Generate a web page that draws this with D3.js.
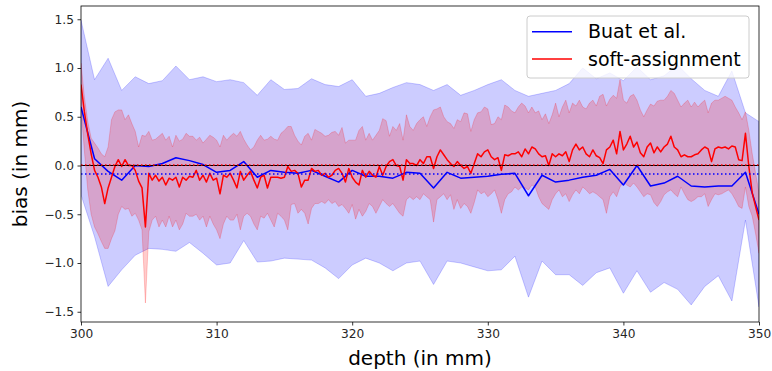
<!DOCTYPE html>
<html>
<head>
<meta charset="utf-8">
<script src="https://cdn.jsdelivr.net/npm/d3@7"></script>
<style>
  body { margin: 0; background: #fff; }
  svg { display: block; font-family: "DejaVu Sans", sans-serif; }
</style>
</head>
<body>
<svg id="chart" width="772" height="371"></svg>
<script>
// depth grids (mm): the baseline method is sampled every 1 mm, soft-assignment every 0.25 mm
const buatDepth = d3.range(300, 350.001, 1);
const softDepth = d3.range(300, 350.001, 0.25);

// Buat et al. : mean bias and the +/- band
const buatMean = [
  0.6, 0.07, -0.06, -0.15, 0.0, -0.01, 0.02, 0.08, 0.05, 0.01,
  -0.07, -0.05, 0.04, -0.12, -0.05, -0.07, -0.08, -0.05, -0.11, -0.17,
  -0.05, -0.11, -0.11, -0.13, -0.07, -0.08, -0.23, -0.07, -0.13, -0.12,
  -0.11, -0.09, -0.08, -0.31, -0.1, -0.17, -0.15, -0.12, -0.1, -0.04,
  -0.2, 0.0, -0.21, -0.18, -0.11, -0.21, -0.22, -0.21, -0.21, -0.07,
  -0.5
];
const buatUpper = [
  1.49, 0.88, 1.1, 0.77, 0.91, 0.84, 0.87, 1.02, 0.88, 0.91,
  0.86, 0.88, 0.85, 0.72, 0.88, 0.78, 0.79, 0.89, 0.83, 0.81,
  0.88, 0.71, 0.74, 0.8, 0.85, 0.83, 0.77, 0.83, 0.72, 0.77,
  0.83, 0.88, 0.77, 0.71, 0.74, 0.77, 0.84, 1.0, 0.89, 0.95,
  0.87, 1.01, 0.88, 0.92, 1.03, 0.89, 0.77, 0.71, 0.97, 0.54,
  0.45
];
const buatLower = [
  -0.3, -0.73, -1.24, -1.07, -0.92, -0.85, -0.86, -0.88, -0.79, -0.9,
  -1.02, -1.0, -0.77, -0.99, -0.98, -0.95, -0.96, -0.97, -1.05, -1.16,
  -1.02, -0.95, -1.0, -1.08, -1.0, -0.98, -1.22, -0.98, -1.0, -1.04,
  -1.08, -1.07, -0.93, -1.35, -0.98, -1.12, -1.12, -1.23, -1.1, -1.05,
  -1.31, -1.08, -1.3, -1.2, -1.27, -1.43, -1.24, -1.13, -1.39, -0.56,
  -1.45
];

// soft-assignment : mean bias and band (4 values per mm)
const softMean = [
  0.83, 0.55, 0.32, 0.12,  -0.05, -0.12, -0.22, -0.39,  -0.23, -0.12, -0.01, 0.06,
  -0.01, 0.06, 0.0, 0.0,  -0.05, -0.16, -0.23, -0.63,  -0.08, -0.15, -0.1, -0.16,
  -0.12, -0.2, -0.13, -0.15,  -0.12, -0.22, -0.12, -0.15,  -0.11, -0.12, -0.05, -0.15,
  -0.1, -0.17, -0.08, -0.15,  -0.13, -0.29, -0.1, -0.12,  -0.08, -0.15, -0.23, -0.06,
  -0.15, -0.1, -0.06, -0.15,  -0.23, -0.12, -0.1, -0.23,  -0.12, -0.12, -0.12, -0.13,
  -0.12, -0.01, -0.06, -0.05,  -0.08, -0.22, -0.15, -0.15,  -0.03, -0.06, -0.05, -0.1,
  -0.08, -0.12, -0.1, -0.05,  -0.03, -0.08, -0.17, -0.03,  -0.12, -0.17, -0.2, -0.05,
  -0.12, -0.06, -0.1, -0.12,  -0.01, -0.1, -0.01, 0.04,  0.06, 0.0, -0.01, -0.15,
  0.06, 0.02, 0.02, 0.0,  0.06, 0.02, 0.09, 0.09,  -0.03, 0.09, 0.16, 0.11,
  0.06, 0.02, -0.01, 0.04,  0.0, -0.03, -0.01, -0.08,  0.02, 0.12, 0.09, 0.14,
  0.16, 0.09, 0.06, 0.08,  -0.05, 0.11, 0.1, 0.12,  0.12, 0.14, 0.09, 0.17,
  0.12, 0.19, 0.17, 0.12,  0.09, 0.1, 0.0, 0.12,  0.09, 0.12, 0.1, 0.14,
  0.04, 0.16, 0.22, 0.16,  0.19, 0.12, 0.09, 0.16,  0.1, 0.08, 0.02, 0.16,
  0.19, 0.26, 0.12, 0.35,  0.16, 0.22, 0.3, 0.19,  0.24, 0.13, 0.09, 0.19,
  0.23, 0.13, 0.19, 0.14,  0.19, 0.22, 0.3, 0.19,  0.16, 0.09, 0.11, 0.09,
  0.09, 0.11, 0.12, 0.16,  0.19, 0.17, 0.04, 0.17,  0.19, 0.18, 0.19, 0.17,
  0.2, 0.19, 0.06, 0.05,  0.33, -0.01, -0.28, -0.42,
  -0.56
];
const softUpper = [
  1.05, 0.7, 0.45, 0.28,  0.23, 0.18, 0.12, 0.09,  0.19, 0.47, 0.55, 0.57,
  0.57, 0.47, 0.52, 0.43,  0.35, 0.19, 0.31, 0.3,  0.35, 0.26, 0.27, 0.3,
  0.33, 0.26, 0.3, 0.19,  0.31, 0.25, 0.27, 0.33,  0.3, 0.3, 0.26, 0.29,
  0.23, 0.27, 0.31, 0.29,  0.26, 0.19, 0.31, 0.26,  0.3, 0.33, 0.3, 0.35,
  0.27, 0.21, 0.16, 0.19,  0.26, 0.31, 0.26, 0.27,  0.3, 0.27, 0.26, 0.33,
  0.36, 0.4, 0.4, 0.31,  0.25, 0.21, 0.3, 0.33,  0.26, 0.37, 0.35, 0.33,
  0.3, 0.31, 0.34, 0.35,  0.31, 0.39, 0.23, 0.26,  0.26, 0.26, 0.36, 0.4,
  0.26, 0.33, 0.26, 0.31,  0.36, 0.48, 0.46, 0.3,  0.4, 0.36, 0.43, 0.26,
  0.52, 0.4, 0.36, 0.43,  0.47, 0.5, 0.4, 0.5,  0.57, 0.58, 0.6, 0.5,
  0.45, 0.43, 0.38, 0.47,  0.45, 0.54, 0.53, 0.35,  0.47, 0.54, 0.55, 0.6,
  0.58, 0.42, 0.43, 0.5,  0.47, 0.62, 0.6, 0.56,  0.54, 0.6, 0.64, 0.61,
  0.54, 0.6, 0.54, 0.56,  0.47, 0.53, 0.43, 0.52,  0.64, 0.5, 0.6, 0.67,
  0.54, 0.64, 0.61, 0.67,  0.6, 0.58, 0.64, 0.67,  0.61, 0.71, 0.73, 0.61,
  0.68, 0.72, 0.69, 0.88,  0.67, 0.64, 0.71, 0.73,  0.67, 0.57, 0.5, 0.57,
  0.63, 0.61, 0.66, 0.67,  0.67, 0.71, 0.77, 0.74,  0.67, 0.6, 0.64, 0.67,
  0.6, 0.65, 0.6, 0.64,  0.67, 0.54, 0.64, 0.67,  0.67, 0.69, 0.71, 0.69,
  0.67, 0.6, 0.54, 0.47,  0.55, 0.36, 0.12, -0.08,
  -0.28
];
const softLower = [
  0.6, 0.15, -0.25, -0.5,  -0.63, -0.7, -0.78, -0.85,  -0.85, -0.75, -0.67, -0.5,
  -0.42, -0.45, -0.44, -0.52,  -0.49, -0.56, -0.66, -1.41,  -0.68, -0.56, -0.52, -0.63,
  -0.56, -0.63, -0.52, -0.63,  -0.56, -0.66, -0.6, -0.49,  -0.52, -0.52, -0.5, -0.56,
  -0.52, -0.63, -0.52, -0.6,  -0.66, -0.75, -0.6, -0.52,  -0.56, -0.56, -0.5, -0.66,
  -0.52, -0.49, -0.52, -0.6,  -0.66, -0.52, -0.54, -0.49,  -0.56, -0.63, -0.49, -0.52,
  -0.56, -0.66, -0.4, -0.39,  -0.49, -0.45, -0.49, -0.6,  -0.44, -0.39, -0.39, -0.37,
  -0.39, -0.35, -0.39, -0.37,  -0.42, -0.4, -0.44, -0.49,  -0.4, -0.55, -0.45, -0.52,
  -0.47, -0.39, -0.42, -0.49,  -0.42, -0.35, -0.39, -0.42,  -0.39, -0.44, -0.49, -0.52,
  -0.35, -0.32, -0.35, -0.32,  -0.35, -0.29, -0.32, -0.35,  -0.58, -0.35, -0.32, -0.29,
  -0.35, -0.3, -0.45, -0.35,  -0.44, -0.39, -0.42, -0.49,  -0.38, -0.25, -0.29, -0.27,
  -0.32, -0.29, -0.25, -0.35,  -0.49, -0.35, -0.29, -0.27,  -0.22, -0.25, -0.22, -0.23,
  -0.25, -0.2, -0.22, -0.32,  -0.39, -0.42, -0.45, -0.35,  -0.29, -0.25, -0.32, -0.29,
  -0.37, -0.3, -0.25, -0.29,  -0.22, -0.25, -0.29, -0.27,  -0.29, -0.32, -0.35, -0.49,
  -0.32, -0.27, -0.32, -0.22,  -0.17, -0.2, -0.22, -0.18,  -0.22, -0.27, -0.32, -0.29,
  -0.3, -0.38, -0.42, -0.37,  -0.3, -0.27, -0.25, -0.29,  -0.32, -0.22, -0.29, -0.35,
  -0.37, -0.35, -0.32, -0.32,  -0.29, -0.42, -0.35, -0.29,  -0.3, -0.29, -0.27, -0.25,
  -0.29, -0.35, -0.42, -0.44,  -0.22, -0.42, -0.52, -0.7,
  -0.9
];

// overall mean bias of each method (dotted reference lines)
const avgBias = [
  { name: 'soft-assignment', value: 0.005, color: 'red' },
  { name: 'Buat et al.', value: -0.087, color: 'blue' }
];

const xTicks = [300, 310, 320, 330, 340, 350];
const yTicks = [-1.5, -1.0, -0.5, 0.0, 0.5, 1.0, 1.5];

const svg = d3.select('#chart');
const margin = { top: 6, right: 13, bottom: 49, left: 81 };
const width = 772, height = 371;

const scaleX = d3.scaleLinear()
  .domain([300, 350])
  .range([margin.left, width - margin.right]);

const scaleY = d3.scaleLinear()
  .domain([-1.605, 1.636])
  .range([height - margin.bottom, margin.top]);

svg.append('defs').append('clipPath')
  .attr('id', 'plot-clip')
  .append('rect')
  .attr('x', margin.left)
  .attr('y', margin.top)
  .attr('width', scaleX(350) - scaleX(300))
  .attr('height', scaleY(-1.605) - scaleY(1.636));

const plot = svg.append('g').attr('clip-path', 'url(#plot-clip)');

function band(depth, lo, hi) {
  return d3.area()
    .x((d, i) => scaleX(depth[i]))
    .y0((d, i) => scaleY(lo[i]))
    .y1((d, i) => scaleY(hi[i]))(depth);
}

function meanLine(depth, vals) {
  return d3.line()
    .x((d, i) => scaleX(depth[i]))
    .y((d, i) => scaleY(vals[i]))(depth);
}

// bands (alpha 0.2, like fill_between)
plot.append('path')
  .attr('d', band(buatDepth, buatLower, buatUpper))
  .attr('fill', 'blue').attr('fill-opacity', 0.2)
  .attr('stroke', 'blue').attr('stroke-opacity', 0.2).attr('stroke-width', 1);

plot.append('path')
  .attr('d', band(softDepth, softLower, softUpper))
  .attr('fill', 'red').attr('fill-opacity', 0.2)
  .attr('stroke', 'red').attr('stroke-opacity', 0.2).attr('stroke-width', 1);

// mean curves
plot.append('path')
  .attr('d', meanLine(buatDepth, buatMean))
  .attr('fill', 'none').attr('stroke', 'blue').attr('stroke-width', 1.5)
  .attr('stroke-linejoin', 'round');

plot.append('path')
  .attr('d', meanLine(softDepth, softMean))
  .attr('fill', 'none').attr('stroke', 'red').attr('stroke-width', 1.5)
  .attr('stroke-linejoin', 'round');

// zero line + dotted average bias lines
plot.append('line')
  .attr('x1', scaleX(300)).attr('x2', scaleX(350))
  .attr('y1', scaleY(0)).attr('y2', scaleY(0))
  .attr('stroke', 'black').attr('stroke-width', 1);

plot.selectAll('line.avg')
  .data(avgBias)
  .join('line')
  .attr('class', 'avg')
  .attr('x1', scaleX(300)).attr('x2', scaleX(350))
  .attr('y1', d => scaleY(d.value)).attr('y2', d => scaleY(d.value))
  .attr('stroke', d => d.color).attr('stroke-width', 1.5)
  .attr('stroke-dasharray', '1.5,2.5');

// axes
const xAxis = svg.append('g')
  .attr('transform', 'translate(0,' + scaleY(-1.605) + ')')
  .call(d3.axisBottom(scaleX).tickValues(xTicks).tickFormat(d3.format('d')).tickSizeOuter(0).tickSize(3.5).tickPadding(3.5));

const yAxis = svg.append('g')
  .attr('transform', 'translate(' + scaleX(300) + ',0)')
  .call(d3.axisLeft(scaleY).tickValues(yTicks).tickFormat(d3.format('.1f')).tickSizeOuter(0).tickSize(3.5).tickPadding(3.5));

[xAxis, yAxis].forEach(ax => {
  ax.select('.domain').remove();
  ax.selectAll('.tick line').attr('stroke', 'black').attr('stroke-width', 0.8);
  ax.selectAll('.tick text')
    .attr('fill', '#262626')
    .style('font-size', '12.2px')
    .style('font-family', '"DejaVu Sans", sans-serif');
});

// frame
svg.append('rect')
  .attr('x', scaleX(300)).attr('y', scaleY(1.636))
  .attr('width', scaleX(350) - scaleX(300))
  .attr('height', scaleY(-1.605) - scaleY(1.636))
  .attr('fill', 'none').attr('stroke', 'black').attr('stroke-width', 0.8);

// axis labels
svg.append('text')
  .attr('x', (scaleX(300) + scaleX(350)) / 2)
  .attr('y', 365)
  .attr('text-anchor', 'middle')
  .style('font-size', '20px')
  .text('depth (in mm)');

svg.append('text')
  .attr('transform', 'translate(27,' + ((scaleY(1.636) + scaleY(-1.605)) / 2) + ') rotate(-90)')
  .attr('text-anchor', 'middle')
  .style('font-size', '20px')
  .text('bias (in mm)');

// legend
const legendItems = [
  { label: 'Buat et al.', color: 'blue' },
  { label: 'soft-assignment', color: 'red' }
];

const legend = svg.append('g').attr('transform', 'translate(527,16)');
legend.append('rect')
  .attr('width', 222).attr('height', 62).attr('rx', 3)
  .attr('fill', 'white').attr('fill-opacity', 0.8)
  .attr('stroke', '#cccccc').attr('stroke-width', 1);

const rows = legend.selectAll('g.row')
  .data(legendItems)
  .join('g')
  .attr('class', 'row')
  .attr('transform', (d, i) => 'translate(0,' + (15.7 + i * 27.3) + ')');

rows.append('line')
  .attr('x1', 5).attr('x2', 45)
  .attr('stroke', d => d.color).attr('stroke-width', 1.5);

rows.append('text')
  .attr('x', 61).attr('y', 6.5)
  .style('font-size', '19px')
  .attr('fill', 'black')
  .text(d => d.label);
</script>
</body>
</html>
